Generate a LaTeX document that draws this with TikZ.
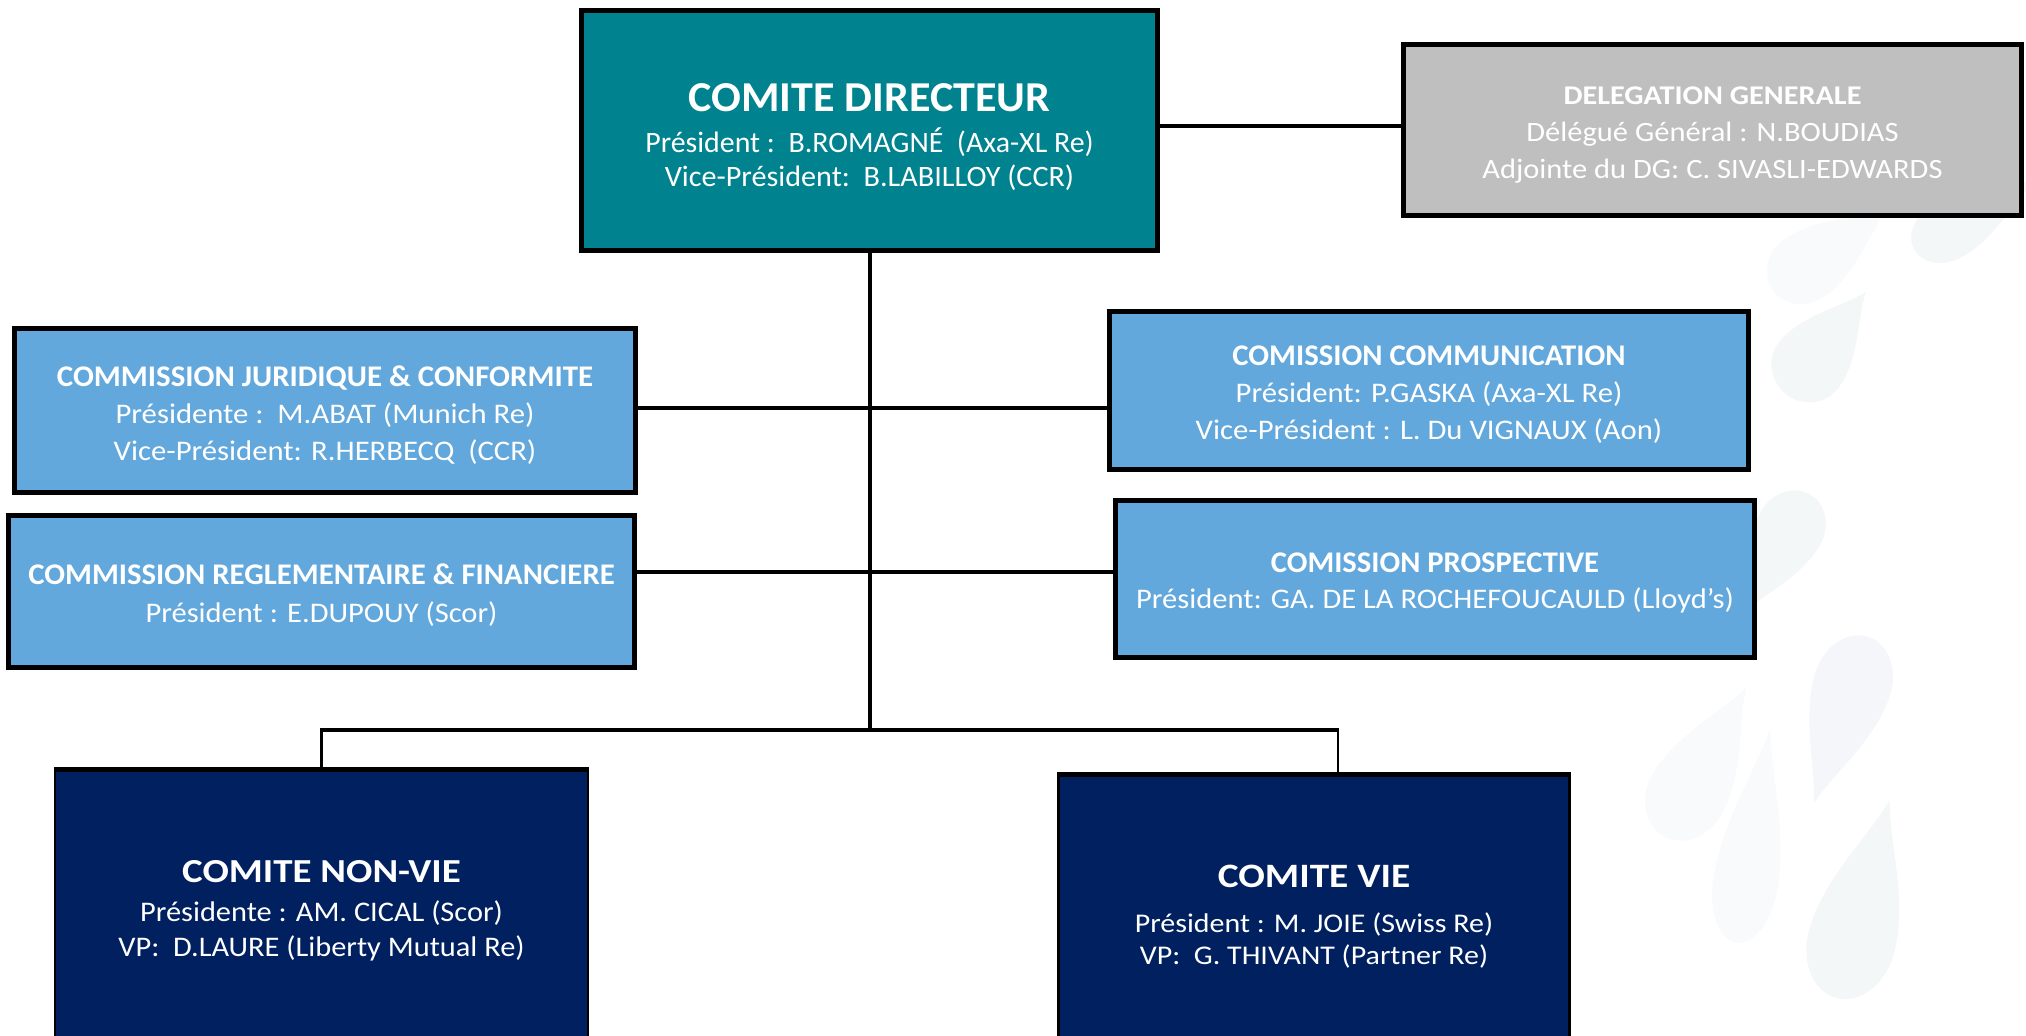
\documentclass[tikz,border=0pt]{standalone}
\usepackage{graphicx}
\usepackage{fontspec}
\setmainfont{Carlito}
\usetikzlibrary{calc}
\definecolor{dirteal}{RGB}{0,130,143}
\definecolor{delgrey}{RGB}{191,191,191}
\definecolor{comblue}{RGB}{98,168,220}
\definecolor{navyblue}{RGB}{0,32,96}
\definecolor{dropA}{RGB}{243,247,248}
\definecolor{dropB}{RGB}{245,246,250}
\definecolor{dropC}{RGB}{248,250,251}
\newcommand{\ofdrop}[6]{%
  \begin{scope}[shift={(#1,#2)},rotate=#3,x=#5*0.5pt,y=#4*0.5pt]
    \fill[#6] (0,0.5) .. controls (0.12,0.3) and (0.5,0.05) .. (0.5,-0.22)
      arc[start angle=0,end angle=-180,x radius=0.5,y radius=0.28]
      .. controls (-0.5,0.05) and (-0.12,0.3) .. (0,0.5) -- cycle;
  \end{scope}}
\newcommand{\ofwide}[2]{\scalebox{#1}[1]{#2}}
\begin{document}
\begin{tikzpicture}[x=0.5pt,y=-0.5pt,
  box/.style={draw=black,line width=2.4pt,inner sep=0pt},
  txt/.style={inner sep=0pt,align=center,text=white,font=\fontsize{14.2}{18.5}\selectfont},
  link/.style={line width=2pt,draw=black}]
\useasboundingbox (0,0) rectangle (2026,1036);
% background watermark drops
\ofdrop{1975}{215}{-60}{140}{60}{dropA}
\ofdrop{1830}{250}{-55}{140}{70}{dropC}
\ofdrop{1826}{343}{-38}{130}{75}{dropA}
\ofdrop{1775}{555}{150}{140}{68}{dropA}
\ofdrop{1705}{762}{-29}{170}{80}{dropC}
\ofdrop{1753}{836}{-9}{216}{65}{dropC}
\ofdrop{1841}{720}{162}{175}{78}{dropB}
\ofdrop{1863}{899}{-15}{205}{88}{dropA}
% boxes
\node[box,fill=dirteal,minimum width=288pt,minimum height=120pt] (dir) at (869.5,130.5) {};
\node[box,fill=delgrey,minimum width=309pt,minimum height=85.5pt] (del) at (1712.5,130) {};
\node[box,fill=comblue,minimum width=310.5pt,minimum height=82pt] (jur) at (325,410.5) {};
\node[box,fill=comblue,minimum width=313pt,minimum height=76pt] (regl) at (321.5,591.5) {};
\node[box,fill=comblue,minimum width=319.5pt,minimum height=79pt] (comm) at (1429,390.5) {};
\node[box,fill=comblue,minimum width=319.5pt,minimum height=78.5pt] (pro) at (1435,579) {};
\node[box,fill=navyblue,line width=1.2pt,minimum width=266.3pt,minimum height=139pt] (nv) at (321.5,910) {};
\node[box,fill=navyblue,line width=1.2pt,minimum width=255.5pt,minimum height=140pt] (vie) at (1314,916) {};
\draw[line width=2.5pt] (nv.north west) -- (nv.north east);
\draw[line width=2.5pt] (vie.north west) -- (vie.north east);
% texts
\node[txt,font=\fontsize{14.8}{17.2}\selectfont] (dirtext) at (869.5,137)
  {{\bfseries\fontsize{21.3}{21.3}\selectfont \ofwide{1.035}{COMITE DIRECTEUR}}\\[3.1pt]
   \ofwide{1.01}{Président :\ \ B.ROMAGNÉ\ \ (Axa-XL Re)}\\
   \ofwide{1.02}{Vice-Président:\ \ B.LABILLOY (CCR)}};
\node[txt,font=\fontsize{14}{18.5}\selectfont] (deltext) at (1712.5,134.6)
  {{\bfseries\fontsize{13.5}{13.5}\selectfont \ofwide{1.12}{DELEGATION GENERALE}}\\
   \ofwide{1.09}{Délégué Général : N.BOUDIAS}\\
   \ofwide{1.09}{Adjointe du DG: C. SIVASLI-EDWARDS}};
\node[txt] (jurtext) at (325,414.8)
  {{\bfseries\fontsize{15}{15}\selectfont \ofwide{1.03}{COMMISSION JURIDIQUE \& CONFORMITE}}\\
   \ofwide{1.08}{Présidente :\ \ M.ABAT (Munich Re)}\\
   \ofwide{1.08}{Vice-Président: R.HERBECQ\ \ (CCR)}};
\node[txt] (regltext) at (321.5,595.3)
  {{\bfseries\fontsize{15}{15}\selectfont \ofwide{1.025}{COMMISSION REGLEMENTAIRE \& FINANCIERE}}\\[0.75pt]
   \ofwide{1.075}{Président : E.DUPOUY (Scor)}};
\node[txt] (commtext) at (1429,394.7)
  {{\bfseries\fontsize{15}{15}\selectfont \ofwide{1.025}{COMISSION COMMUNICATION}}\\[0.3pt]
   \ofwide{1.08}{Président: P.GASKA (Axa-XL Re)}\\
   \ofwide{1.08}{Vice-Président : L. Du VIGNAUX (Aon)}};
\node[txt] (protext) at (1435,582.8)
  {{\bfseries\fontsize{15}{15}\selectfont \ofwide{1.02}{COMISSION PROSPECTIVE}}\\[-0.75pt]
   \ofwide{1.075}{Président: GA. DE LA ROCHEFOUCAULD (Lloyd’s)}};
\node[txt,font=\fontsize{14.2}{17.5}\selectfont] (nvtext) at (321.5,910.7)
  {{\bfseries\fontsize{16.8}{16.8}\selectfont \ofwide{1.16}{COMITE NON-VIE}}\\[1.7pt]
   \ofwide{1.07}{Présidente : AM. CICAL (Scor)}\\
   \ofwide{1.07}{VP:\ \ D.LAURE (Liberty Mutual Re)}};
\node[txt,font=\fontsize{13.5}{16.3}\selectfont] (vietext) at (1314,916.7)
  {{\bfseries\fontsize{17.1}{17.1}\selectfont \ofwide{1.15}{COMITE VIE}}\\[6pt]
   \ofwide{1.11}{Président : M. JOIE (Swiss Re)}\\
   \ofwide{1.11}{VP:\ \ G. THIVANT (Partner Re)}};
% connectors
\coordinate (row0) at (0,126);
\coordinate (row1) at (0,408);
\coordinate (row2) at (0,572);
\coordinate (bus) at (867,730);
\coordinate (vdrop) at (1338,776);
\draw[link] (dir.south) -- (dir.south |- bus);
\draw[link] (dir.east |- row0) -- (del.west |- row0);
\draw[link] (jur.east |- row1) -- (comm.west |- row1);
\draw[link] (regl.east |- row2) -- (pro.west |- row2);
\draw[line width=2.4pt] ([xshift=-0.6pt]nv.north |- bus) -- ([xshift=0.6pt]vdrop |- bus);
\draw[line width=1.3pt] (nv.north |- bus) -- (nv.north);
\draw[line width=1.3pt] (vdrop |- bus) -- (vdrop);
\end{tikzpicture}
\end{document}
